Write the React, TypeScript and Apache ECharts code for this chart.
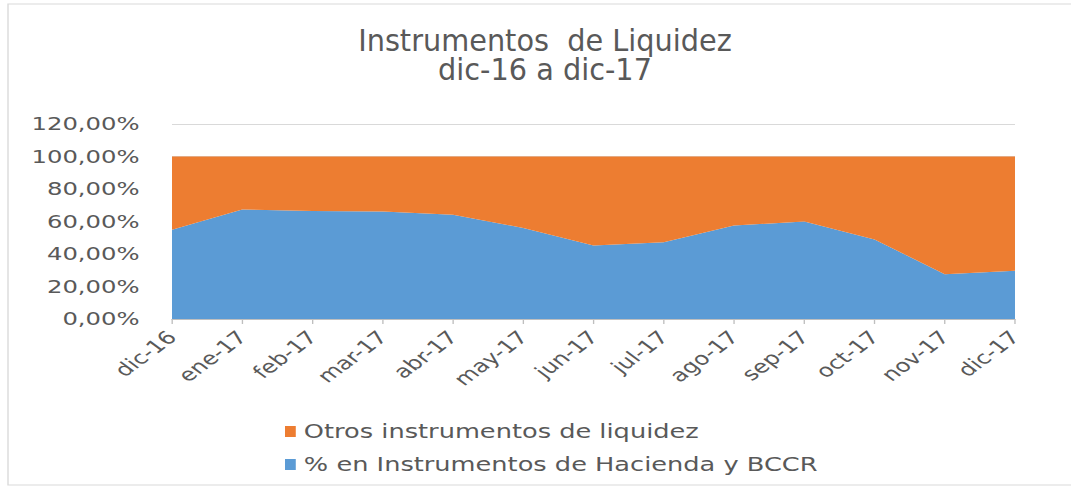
import React, { useEffect, useRef } from "react";
import * as echarts from "echarts";

const categories = ["dic-16", "ene-17", "feb-17", "mar-17", "abr-17", "may-17", "jun-17", "jul-17", "ago-17", "sep-17", "oct-17", "nov-17", "dic-17"];
const haciendaBCCR = [55, 67.4, 66.4, 66.2, 64.2, 56, 45.2, 47.2, 57.5, 60, 48.9, 27.6, 29.7];
const otros = [45, 32.6, 33.6, 33.8, 35.8, 44, 54.8, 52.8, 42.5, 40, 51.1, 72.4, 70.3];
const seriesNames = ["Otros instrumentos de liquidez", "% en Instrumentos de Hacienda y BCCR"];
const titleLines = ["Instrumentos  de Liquidez", "dic-16 a dic-17"];

const REAL_W = 1071;
const H = 495;
const S = 1.3506;
const W = Math.round(REAL_W / S);

export default function App() {
  const ref = useRef<HTMLDivElement>(null);
  useEffect(() => {
    if (!ref.current) return;
    const chart = echarts.init(ref.current, null, { renderer: "svg" });
    const font = "'DejaVu Sans', Verdana, sans-serif";
    chart.setOption({
      animation: false,
      backgroundColor: "#ffffff",
      graphic: [
        {
          type: "rect",
          shape: { x: 8 / S, y: 4, width: W + 20, height: 481 },
          style: { fill: "none", stroke: "#d9d9d9", lineWidth: 1 },
          silent: true,
        },
        {
          type: "text",
          x: 545 / S,
          y: 41,
          scaleX: 0.71,
          style: { text: titleLines[0], x: 0, y: 0, textAlign: "center", textVerticalAlign: "middle", fontSize: 30, fontFamily: font, fill: "#595959" },
        },
        {
          type: "text",
          x: 545 / S,
          y: 70,
          scaleX: 0.71,
          style: { text: titleLines[1], x: 0, y: 0, textAlign: "center", textVerticalAlign: "middle", fontSize: 30, fontFamily: font, fill: "#595959" },
        },
      ],
      legend: {
        orient: "vertical",
        left: 206,
        top: 417,
        icon: "rect",
        itemWidth: 8,
        itemHeight: 11,
        itemGap: 14,
        data: seriesNames,
        textStyle: { fontSize: 19, fontFamily: font, color: "#595959", padding: [0, 0, 0, 1] },
      },
      grid: { left: 172 / S, right: W - 1015 / S, top: 124, bottom: 176, containLabel: false },
      xAxis: {
        type: "category",
        boundaryGap: false,
        data: categories,
        axisLine: { show: true, lineStyle: { color: "#bfbfbf", width: 1 } },
        axisTick: { show: true, length: 5, lineStyle: { color: "#bfbfbf" } },
        axisLabel: { rotate: 45, fontSize: 18, fontFamily: font, color: "#595959", margin: 15, interval: 0 },
        splitLine: { show: false },
      },
      yAxis: {
        type: "value",
        min: 0,
        max: 120,
        interval: 20,
        axisLine: { show: false },
        axisTick: { show: false },
        axisLabel: {
          fontSize: 18,
          fontFamily: font,
          color: "#595959",
          margin: 24,
          formatter: (v: number) => v.toFixed(2).replace(".", ",") + "%",
        },
        splitLine: { show: true, lineStyle: { color: "#d9d9d9", width: 1 } },
      },
      series: [
        {
          name: seriesNames[1],
          type: "line",
          stack: "total",
          data: haciendaBCCR,
          symbol: "none",
          lineStyle: { width: 0 },
          areaStyle: { color: "#5b9bd5", opacity: 1 },
          itemStyle: { color: "#5b9bd5" },
        },
        {
          name: seriesNames[0],
          type: "line",
          stack: "total",
          data: otros,
          symbol: "none",
          lineStyle: { width: 0 },
          areaStyle: { color: "#ed7d31", opacity: 1 },
          itemStyle: { color: "#ed7d31" },
        },
      ],
    });
    return () => chart.dispose();
  }, []);
  return (
    <div style={{ position: "absolute", left: 0, top: 0, width: REAL_W, height: H, overflow: "hidden", background: "#fff" }}>
      <div ref={ref} style={{ width: W, height: H, transform: `scaleX(${S})`, transformOrigin: "0 0" }} />
    </div>
  );
}
